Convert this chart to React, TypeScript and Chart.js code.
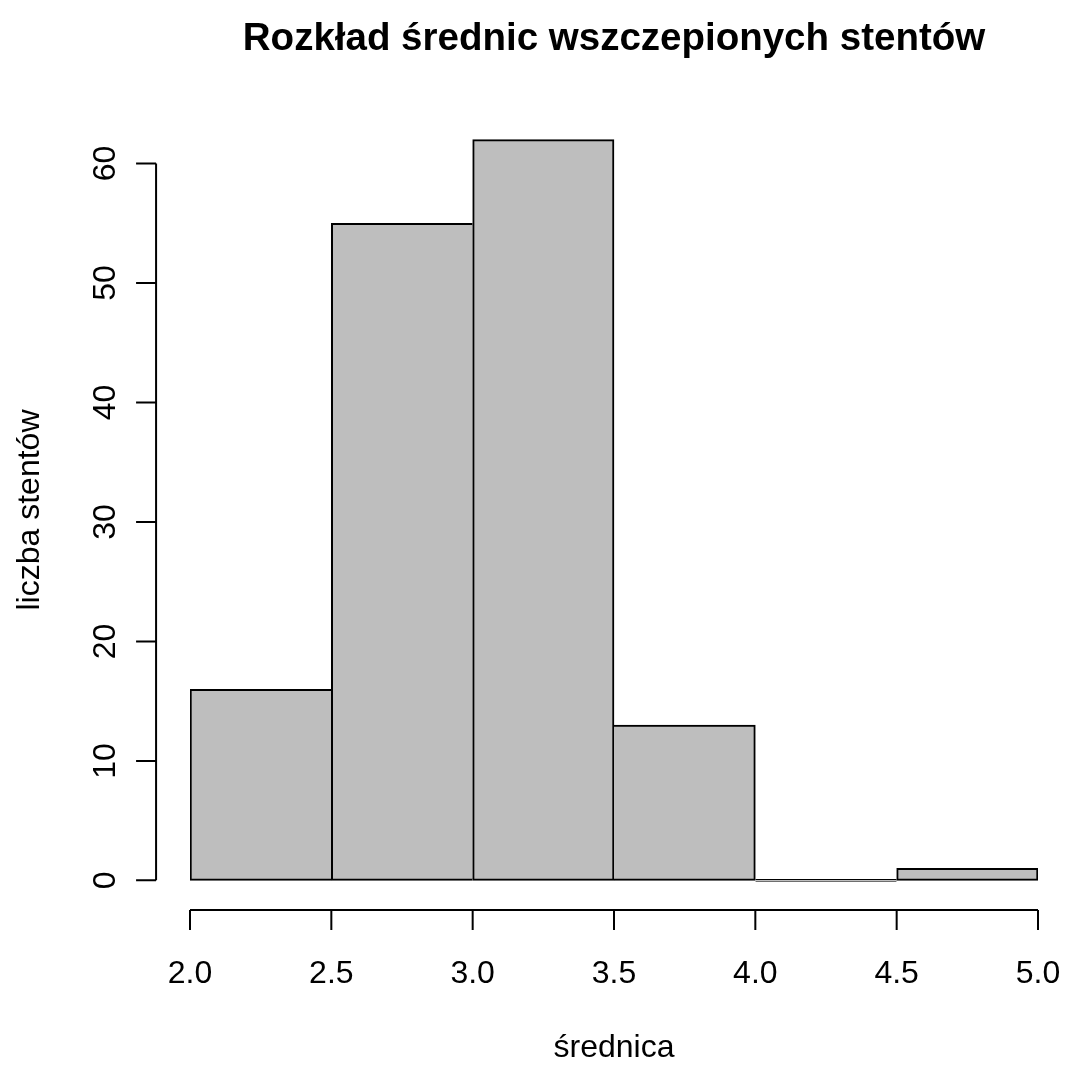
import React, { useEffect, useRef } from "react";
import { Chart, registerables } from "chart.js";

Chart.register(...registerables);

const TITLE = "Rozkład średnic wszczepionych stentów";
const X_TITLE = "średnica";
const Y_TITLE = "liczba stentów";

const binEdges = [2.0, 2.5, 3.0, 3.5, 4.0, 4.5, 5.0];
const counts = [16, 55, 62, 13, 0, 1];

const xTickValues = [2.0, 2.5, 3.0, 3.5, 4.0, 4.5, 5.0];
const xTickLabels = ["2.0", "2.5", "3.0", "3.5", "4.0", "4.5", "5.0"];
const yTickValues = [0, 10, 20, 30, 40, 50, 60];
const yTickLabels = ["0", "10", "20", "30", "40", "50", "60"];

const FONT = '"Liberation Sans", Arial, Helvetica, sans-serif';

const rAxesPlugin = {
  id: "rAxes",
  afterDraw(chart: any) {
    const ctx = chart.ctx;
    const xs = chart.scales.x;
    const ys = chart.scales.y;
    const area = chart.chartArea;
    ctx.save();
    ctx.strokeStyle = "#000";
    ctx.fillStyle = "#000";
    ctx.lineWidth = 2;
    ctx.lineCap = "butt";

    // x axis
    const axY = area.bottom;
    const x0 = xs.getPixelForValue(xTickValues[0]);
    const x1 = xs.getPixelForValue(xTickValues[xTickValues.length - 1]);
    ctx.beginPath();
    ctx.moveTo(x0, axY);
    ctx.lineTo(x1, axY);
    xTickValues.forEach((v) => {
      const px = xs.getPixelForValue(v);
      ctx.moveTo(px, axY);
      ctx.lineTo(px, axY + 20);
    });
    ctx.stroke();
    ctx.font = `32px ${FONT}`;
    ctx.textAlign = "center";
    ctx.textBaseline = "alphabetic";
    xTickValues.forEach((v, i) => {
      ctx.fillText(xTickLabels[i], xs.getPixelForValue(v), 983);
    });

    // y axis
    const axX = xs.getPixelForValue(1.88);
    const y0 = ys.getPixelForValue(yTickValues[0]);
    const y1 = ys.getPixelForValue(yTickValues[yTickValues.length - 1]);
    ctx.beginPath();
    ctx.moveTo(axX, y0);
    ctx.lineTo(axX, y1);
    yTickValues.forEach((v) => {
      const py = ys.getPixelForValue(v);
      ctx.moveTo(axX, py);
      ctx.lineTo(axX - 20, py);
    });
    ctx.stroke();
    yTickValues.forEach((v, i) => {
      const py = ys.getPixelForValue(v);
      ctx.save();
      ctx.translate(115, py);
      ctx.rotate(-Math.PI / 2);
      ctx.fillText(yTickLabels[i], 0, 0);
      ctx.restore();
    });

    const plotCenterX = (xs.getPixelForValue(1.88) + xs.getPixelForValue(5.12)) / 2;
    const plotCenterY = (area.top + area.bottom) / 2;

    // axis titles
    ctx.fillText(X_TITLE, plotCenterX, 1057);
    ctx.save();
    ctx.translate(39, plotCenterY);
    ctx.rotate(-Math.PI / 2);
    ctx.fillText(Y_TITLE, 0, 0);
    ctx.restore();

    // main title
    ctx.font = `bold 38.5px ${FONT}`;
    ctx.fillText(TITLE, plotCenterX, 50);
    ctx.restore();
  },
};

export default function App() {
  const ref = useRef<HTMLCanvasElement | null>(null);
  useEffect(() => {
    if (!ref.current) return;
    const data = counts.map((c, i) => ({ x: (binEdges[i] + binEdges[i + 1]) / 2, y: c }));
    const n = counts.length;
    const chart = new Chart(ref.current, {
      type: "bar",
      data: {
        datasets: [
          {
            data,
            backgroundColor: "#BEBEBE",
            borderColor: "#000",
            borderWidth: (c: any) => {
              const i = c.dataIndex;
              const v = counts[i];
              const left = i > 0 && counts[i - 1] > 0 && counts[i - 1] >= v ? 0 : 2;
              const right = i < n - 1 && counts[i + 1] > v ? 0 : 2;
              return { top: 2, bottom: 2, left, right };
            },
            borderSkipped: false,
            minBarLength: 2,
            barPercentage: 1,
            categoryPercentage: 1,
          },
        ],
      },
      options: {
        responsive: false,
        animation: false,
        events: [],
        layout: { padding: { left: 190, right: 28, top: 110, bottom: 155 } },
        plugins: { legend: { display: false }, tooltip: { enabled: false }, title: { display: false } },
        scales: {
          x: { type: "linear", min: 2, max: 5, offset: false, display: false },
          y: { type: "linear", min: -2.48, max: 64.48, display: false },
        },
      },
      plugins: [rAxesPlugin],
    });
    return () => chart.destroy();
  }, []);
  return (
    <div style={{ position: "absolute", left: 0, top: 0, width: 1066, height: 1065, background: "#fff" }}>
      <canvas ref={ref} width={1066} height={1065} style={{ display: "block" }} />
    </div>
  );
}
